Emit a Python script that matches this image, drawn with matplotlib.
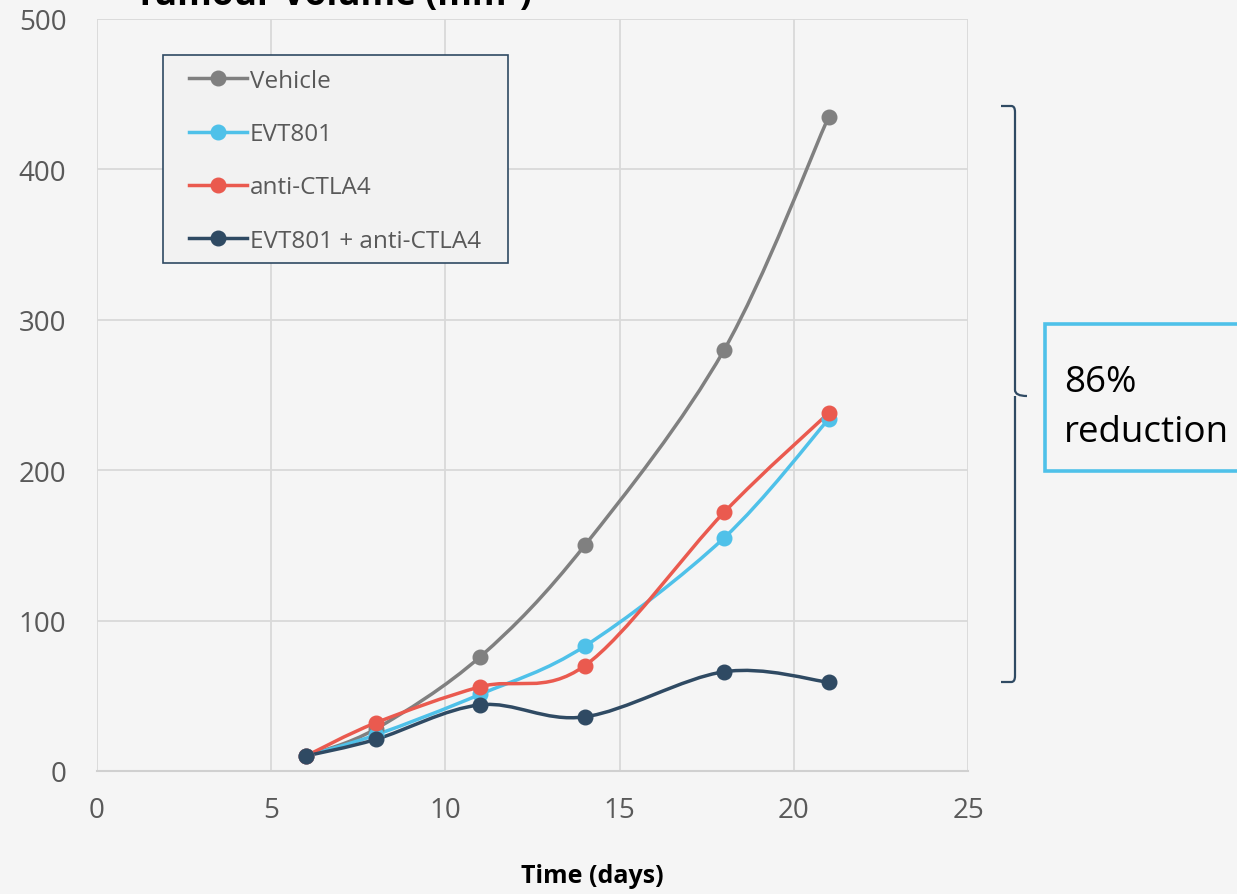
import matplotlib.pyplot as plt
from matplotlib.path import Path
from matplotlib.patches import PathPatch, Rectangle

plt.rcParams['font.family'] = ['Open Sans', 'DejaVu Sans']

days = [6, 8, 11, 14, 18, 21]
vehicle = [10, 28, 76, 150, 280, 435]
evt801 = [10, 24, 51, 83, 155, 234]
anti_ctla4 = [10, 32, 56, 70, 172, 238]
combo = [10, 21, 44, 36, 66, 59]

names = ["Vehicle", "EVT801", "anti-CTLA4", "EVT801 + anti-CTLA4"]
colors = ["#808080", "#4fc1e9", "#ea5a4f", "#2f4a63"]
series = [vehicle, evt801, anti_ctla4, combo]

bg = "#f5f5f5"
W, H = 1237, 895


def smooth_path(x, y):
    # excel style smooth line (catmull-rom as bezier)
    verts = [(x[0], y[0])]
    codes = [Path.MOVETO]
    n = len(x)
    for i in range(n - 1):
        x0, y0 = (x[i - 1], y[i - 1]) if i > 0 else (x[i], y[i])
        x3, y3 = (x[i + 2], y[i + 2]) if i + 2 < n else (x[i + 1], y[i + 1])
        x1, y1 = x[i], y[i]
        x2, y2 = x[i + 1], y[i + 1]
        c1 = (x1 + (x2 - x0) / 6, y1 + (y2 - y0) / 6)
        c2 = (x2 - (x3 - x1) / 6, y2 - (y3 - y1) / 6)
        verts += [c1, c2, (x2, y2)]
        codes += [Path.CURVE4] * 3
    return Path(verts, codes)


fig = plt.figure(figsize=(12.37, 8.95), dpi=100, facecolor=bg)
ax = fig.add_axes([97 / W, 1 - 772 / H, 871 / W, 752 / H])
ax.set_facecolor(bg)

for name, col, vals in zip(names, colors, series):
    ax.add_patch(PathPatch(smooth_path(days, vals), facecolor="none",
                           edgecolor=col, lw=2.5, zorder=3))
    ax.plot(days, vals, "o", color=col, markersize=10.5, zorder=4)
    ax.plot([], [], "-o", color=col, lw=2.5, markersize=10.5, label=name)

ax.set_xlim(0, 25)
ax.set_ylim(0, 500)
ax.set_xticks([0, 5, 10, 15, 20, 25])
ax.set_yticks([0, 100, 200, 300, 400, 500])
ax.grid(True, color="#d9d9d9", lw=1.3)
ax.set_axisbelow(True)
for s in ["top", "right", "left"]:
    ax.spines[s].set_visible(False)
ax.spines["bottom"].set_color("#d0d0d0")
ax.spines["bottom"].set_linewidth(1.5)
ax.tick_params(length=0, labelsize=20, colors="#595959")
ax.tick_params(axis="x", pad=18)
ax.tick_params(axis="y", pad=22)

ax.set_xlabel("Time (days)", fontsize=18, fontweight="bold")
ax.xaxis.set_label_coords((592 - 97) / 871, -(864 - 772) / 752)

# legend without frame, box drawn separately
leg = fig.legend(loc="upper left", bbox_to_anchor=(189 / W, 1 - 70 / H),
                 fontsize=17.5, frameon=False, labelspacing=1.2,
                 handlelength=2.4, handletextpad=0.1, borderpad=0,
                 borderaxespad=0)
for t in leg.get_texts():
    t.set_color("#595959")
fig.add_artist(Rectangle((163 / W, 1 - 264 / H), 345 / W, 208 / H,
                         facecolor="#f2f2f2", edgecolor="#2f4a63", lw=1.2,
                         transform=fig.transFigure, zorder=4))
leg.set_zorder(5)

# title is cut by the top edge, as in the original
fig.text(135 / W, 1 - 5 / H, "Tumour Volume (mm\u00b3)", fontsize=25.5,
         fontweight="bold", va="baseline", ha="left")

# bracket
bx0, bx1, bmid = 1001 / W, 1015 / W, 1027 / W
ytop, ybot, ymid = 1 - 107 / H, 1 - 683 / H, 1 - 397 / H
r = 6 / H
verts = [(bx0, ytop), (bx1 - 0.003, ytop), (bx1, ytop), (bx1, ytop - r),
         (bx1, ymid + r), (bx1, ymid), (bmid, ymid),
         (bx1, ymid), (bx1, ymid - r),
         (bx1, ybot + r), (bx1, ybot), (bx1 - 0.003, ybot), (bx0, ybot)]
codes = [Path.MOVETO, Path.LINETO, Path.CURVE3, Path.CURVE3,
         Path.LINETO, Path.CURVE3, Path.CURVE3,
         Path.MOVETO, Path.CURVE3,
         Path.LINETO, Path.CURVE3, Path.CURVE3, Path.LINETO]
fig.add_artist(PathPatch(Path(verts, codes), facecolor="none",
                         edgecolor="#2f4a63", lw=1.6,
                         transform=fig.transFigure))

fig.add_artist(Rectangle((1045 / W, 1 - 472 / H), 200 / W, 147 / H,
                         facecolor=bg, edgecolor="#4fc1e9", lw=2.6,
                         transform=fig.transFigure))
fig.text(1064 / W, 1 - 408 / H, "86%\nreduction", fontsize=26.5,
         va="center", ha="left", linespacing=1.55)

fig.savefig("out.png", dpi=100, facecolor=bg)
